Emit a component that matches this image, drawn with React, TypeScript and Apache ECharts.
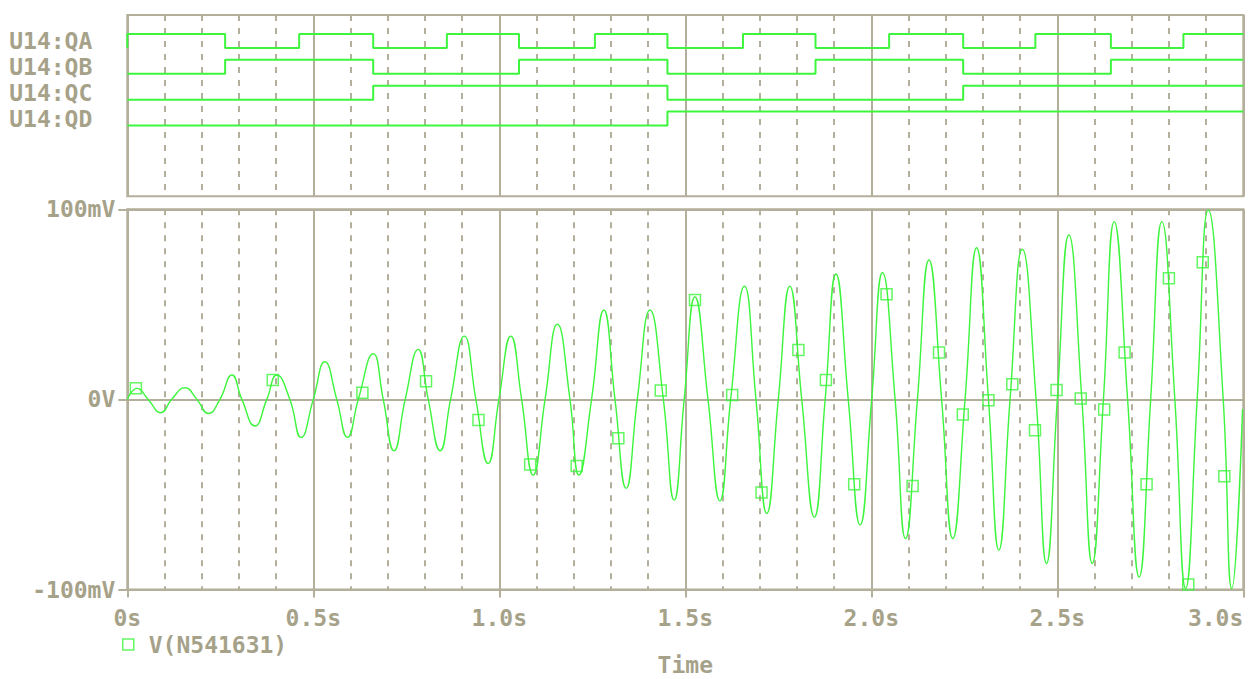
import React, { useEffect, useRef } from "react";
import * as echarts from "echarts";

// Digital probe names, top row first
const signalNames = ["U14:QA", "U14:QB", "U14:QC", "U14:QD"];

// Logic levels as [time (s), bit] change points
const qaEdges: [number, number][] = [
  [0, 0], [0, 1], [0.263, 0], [0.462, 1], [0.661, 0], [0.859, 1], [1.053, 0], [1.257, 1],
  [1.452, 0], [1.655, 1], [1.85, 0], [2.048, 1], [2.247, 0], [2.441, 1], [2.644, 0], [2.839, 1], [3.0, 1],
];
const qbEdges: [number, number][] = [
  [0, 0], [0.263, 1], [0.661, 0], [1.053, 1], [1.452, 0], [1.85, 1], [2.247, 0], [2.644, 1], [3.0, 1],
];
const qcEdges: [number, number][] = [[0, 0], [0.661, 1], [1.452, 0], [2.247, 1], [3.0, 1]];
const qdEdges: [number, number][] = [[0, 0], [1.452, 1], [3.0, 1]];

// Analog node voltage V(N541631): time (s) and value (mV)
const analogTime = [
  0.0, 0.026, 0.056, 0.09, 0.119, 0.155, 0.187, 0.218, 0.249, 0.281, 0.308, 0.343, 0.375, 0.402,
  0.437, 0.467, 0.5, 0.531, 0.563, 0.592, 0.621, 0.661, 0.688, 0.717, 0.747, 0.782, 0.809, 0.841,
  0.869, 0.906, 0.937, 0.97, 0.999, 1.031, 1.06, 1.091, 1.123, 1.156, 1.19, 1.214, 1.248, 1.281,
  1.311, 1.341, 1.371, 1.405, 1.441, 1.47, 1.497, 1.526, 1.561, 1.593, 1.622, 1.659, 1.69, 1.719,
  1.75, 1.781, 1.813, 1.847, 1.876, 1.905, 1.938, 1.97, 2.001, 2.03, 2.064, 2.092, 2.124, 2.155,
  2.189, 2.219, 2.252, 2.283, 2.315, 2.343, 2.373, 2.406, 2.443, 2.471, 2.5, 2.531, 2.566, 2.594,
  2.624, 2.653, 2.689, 2.72, 2.751, 2.781, 2.816, 2.845, 2.876, 2.906, 2.946, 2.969, 2.998,
];
const analogMv = [
  0, 5.8, 0, -7, 0, 6.1, 0, -7.4, 0, 12.8, 0, -14, 0, 12.8,
  0, -20, 0, 19.8, 0, -20, 0, 24, 0, -27, 0, 26.3, 0, -27,
  0, 33.3, 0, -33.7, 0, 33.3, 0, -39.8, 0, 39.5, 0, -39.8, 0, 47,
  0, -46.8, 0, 47, 0, -53, 0, 54, 0, -53.4, 0, 59.6, 0, -60,
  0, 59.6, 0, -62, 0, 66, 0, -66, 0, 66.6, 0, -73.2, 0, 73.3,
  0, -73.2, 0, 79.8, 0, -79.3, 0, 79, 0, -86.3, 0, 86.5, 0, -86.3,
  0, 93.5, 0, -93.4, 0, 93.5, 0, -99.5, 0, 99.6, 0, -99.5, -5,
];

// Trace marker positions on V(N541631)
const markerTime = [
  0.023, 0.391, 0.632, 0.803, 0.944, 1.083, 1.208, 1.32, 1.434, 1.526, 1.626, 1.705, 1.804, 1.878,
  1.954, 2.041, 2.111, 2.182, 2.246, 2.315, 2.379, 2.44, 2.498, 2.563, 2.626, 2.681, 2.74, 2.8,
  2.852, 2.891, 2.949,
];
const markerMv = [
  5.8, 10.2, 3.5, 9.6, -10.9, -34.2, -35, -20.5, 4.7, 52.3, 2.3, -49, 26, 10.2,
  -44.7, 55.3, -45.5, 24.7, -7.9, -0.4, 8, -16.2, 4.9, 0.5, -5.3, 24.7, -44.7, 63.7,
  -97.4, 72.1, -40.4,
];

const xTickValues = [0, 0.5, 1.0, 1.5, 2.0, 2.5, 3.0];
const xTickLabels = ["0s", "0.5s", "1.0s", "1.5s", "2.0s", "2.5s", "3.0s"];
const yTickValues = [-100, 0, 100];
const yTickLabels = ["-100mV", "0V", "100mV"];
const traceName = "V(N541631)";

const GREEN = "#3cf53c";
const AXIS = "#b3af9b";
const TEXT = "#a6a28a";
const FONT = '"DejaVu Sans Mono", "Liberation Mono", monospace';

const textStyle = { color: TEXT, fontFamily: FONT, fontWeight: "bold" as const, fontSize: 23 };

export default function App() {
  const ref = useRef<HTMLDivElement>(null);

  useEffect(() => {
    if (!ref.current) return;
    const chart = echarts.init(ref.current, undefined, { renderer: "svg" });

    const rowCenter = [6, 5, 4, 3];
    const swing = 0.27;
    const digital = [qaEdges, qbEdges, qcEdges, qdEdges];

    const digitalSeries = digital.map((edges, i) => ({
      name: signalNames[i],
      type: "line",
      xAxisIndex: 0,
      yAxisIndex: 0,
      step: "end",
      symbol: "none",
      silent: true,
      lineStyle: { color: GREEN, width: 2 },
      data: edges.map(([t, b]) => [t, rowCenter[i] + (b ? swing : -swing)]),
    }));

    const sharedX = {
      type: "value",
      min: 0,
      max: 3,
      interval: 0.5,
      splitLine: { show: true, lineStyle: { color: AXIS, width: 2 } },
      minorTick: { show: false, splitNumber: 5 },
      minorSplitLine: { show: true, lineStyle: { color: AXIS, width: 2, type: [6, 7] } },
    };

    const option = {
      animation: false,
      backgroundColor: "#ffffff",
      grid: [
        {
          left: 127.3, top: 15, width: 1116, height: 181.3,
          show: true, borderColor: AXIS, borderWidth: 2, outerBoundsMode: "none",
        },
        {
          left: 127.3, top: 209.3, width: 1116, height: 380.2,
          show: true, borderColor: AXIS, borderWidth: 2, outerBoundsMode: "none",
        },
      ],
      xAxis: [
        {
          ...sharedX,
          gridIndex: 0,
          axisLine: { show: false },
          axisTick: { show: false },
          axisLabel: { show: false },
        },
        {
          ...sharedX,
          gridIndex: 1,
          axisLine: { show: true, onZero: false, lineStyle: { color: AXIS, width: 2 } },
          axisTick: { show: true, length: 8, lineStyle: { color: AXIS, width: 2 } },
          axisLabel: {
            ...textStyle,
            margin: 17,
            alignMaxLabel: "right",
            formatter: (v: number) => {
              const k = xTickValues.findIndex((x) => Math.abs(x - v) < 1e-6);
              return k >= 0 ? xTickLabels[k] : "";
            },
          },
          name: "Time",
          nameLocation: "middle",
          nameGap: 64,
          nameTextStyle: textStyle,
        },
      ],
      yAxis: [
        {
          gridIndex: 0,
          type: "value",
          min: 0,
          max: 7,
          interval: 1,
          axisLine: { show: false },
          axisTick: { show: false },
          splitLine: { show: false },
          axisLabel: {
            ...textStyle,
            margin: 35,
            padding: [3, 0, 0, 0],
            formatter: (v: number) => {
              const k = rowCenter.indexOf(Math.round(v));
              return k >= 0 && Math.abs(v - rowCenter[k]) < 1e-6 ? signalNames[k] : "";
            },
          },
        },
        {
          gridIndex: 1,
          type: "value",
          min: -100,
          max: 100,
          interval: 100,
          axisLine: { show: true, lineStyle: { color: AXIS, width: 2 } },
          axisTick: { show: true, length: 9, lineStyle: { color: AXIS, width: 2 } },
          splitLine: { show: true, lineStyle: { color: AXIS, width: 2 } },
          axisLabel: {
            ...textStyle,
            margin: 12,
            padding: [4, 0, 0, 0],
            formatter: (v: number) => {
              const k = yTickValues.indexOf(v);
              return k >= 0 ? yTickLabels[k] : "";
            },
          },
        },
      ],
      legend: {
        left: 122,
        top: 633,
        padding: 0,
        itemWidth: 11,
        itemHeight: 11,
        selectedMode: false,
        textStyle: { ...textStyle, padding: [0, 0, 0, 10] },
        data: [
          {
            name: traceName,
            icon: "rect",
            itemStyle: { color: "rgba(0,0,0,0)", borderColor: GREEN, borderWidth: 1.5 },
          },
        ],
      },
      series: [
        {
          name: traceName,
          type: "scatter",
          xAxisIndex: 1,
          yAxisIndex: 1,
          symbol: "rect",
          symbolSize: 11,
          z: 3,
          silent: true,
          itemStyle: { color: "rgba(0,0,0,0)", borderColor: GREEN, borderWidth: 1.5 },
          data: markerTime.map((t, i) => [t, markerMv[i]]),
        },
        {
          name: traceName,
          type: "line",
          xAxisIndex: 1,
          yAxisIndex: 1,
          symbol: "none",
          smooth: 0.5,
          silent: true,
          z: 2,
          lineStyle: { color: GREEN, width: 1.4 },
          data: analogTime.map((t, i) => [t, analogMv[i]]),
        },
        ...digitalSeries,
      ],
    };

    chart.setOption(option as any);
    return () => chart.dispose();
  }, []);

  return (
    <div
      ref={ref}
      style={{ position: "fixed", left: 0, top: 0, width: 1248, height: 679, background: "#ffffff" }}
    />
  );
}
